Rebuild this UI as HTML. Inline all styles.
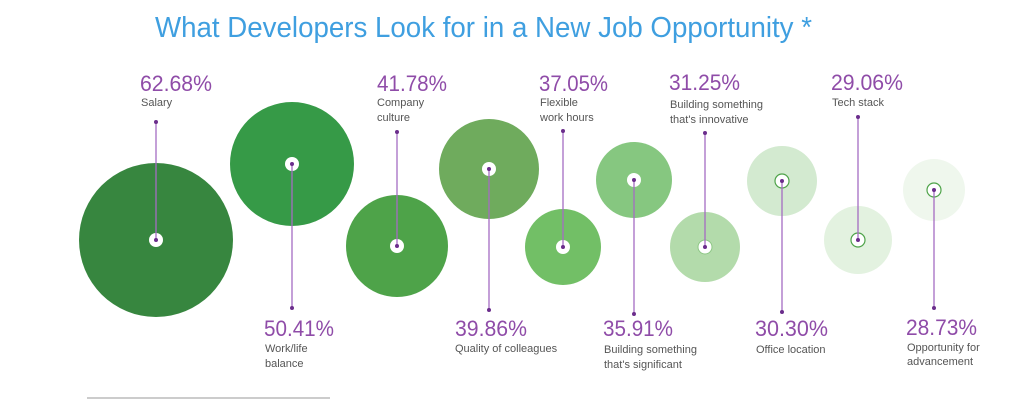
<!DOCTYPE html>
<html><head><meta charset="utf-8"><style>
html,body{margin:0;padding:0;background:#fff;}
svg{display:block;}
text{font-family:"Liberation Sans",sans-serif;}
.p{fill:#8f4ca8;font-size:22px;}
.l{fill:#555;font-size:11px;}
</style></head><body>
<svg width="1024" height="403" viewBox="0 0 1024 403">
<text x="155" y="37" fill="#3f9fe0" font-size="29" textLength="657" lengthAdjust="spacingAndGlyphs">What Developers Look for in a New Job Opportunity *</text>
<g>
<circle cx="156" cy="240" r="77" fill="#37863f"/>
<circle cx="292" cy="164" r="62" fill="#369a47"/>
<circle cx="397" cy="246" r="51" fill="#4ea349"/>
<circle cx="489" cy="169" r="50" fill="#6fab5d"/>
<circle cx="563" cy="247" r="38" fill="#72bf66"/>
<circle cx="634" cy="180" r="38" fill="#86c780"/>
<circle cx="705" cy="247" r="35" fill="#b3dbab"/>
<circle cx="782" cy="181" r="35" fill="#d3ead0"/>
<circle cx="858" cy="240" r="34" fill="#e3f2e0"/>
<circle cx="934" cy="190" r="31" fill="#eff7ed"/>
</g>
<g fill="#fff">
<circle cx="156" cy="240" r="7"/><circle cx="292" cy="164" r="7"/><circle cx="397" cy="246" r="7"/>
<circle cx="489" cy="169" r="7"/><circle cx="563" cy="247" r="7"/><circle cx="634" cy="180" r="7"/>
<circle cx="705" cy="247" r="7" stroke="#8cc784" stroke-width="1"/>
<circle cx="782" cy="181" r="7" stroke="#4ea349" stroke-width="1.2"/>
<circle cx="858" cy="240" r="7" stroke="#4ea349" stroke-width="1.2"/>
<circle cx="934" cy="190" r="7" stroke="#4ea349" stroke-width="1.2"/>
</g>
<g stroke="#a56cc2" stroke-width="1.3">
<line x1="156" y1="122" x2="156" y2="240"/>
<line x1="292" y1="164" x2="292" y2="308"/>
<line x1="397" y1="132" x2="397" y2="246"/>
<line x1="489" y1="169" x2="489" y2="310"/>
<line x1="563" y1="131" x2="563" y2="247"/>
<line x1="634" y1="180" x2="634" y2="314"/>
<line x1="705" y1="133" x2="705" y2="247"/>
<line x1="782" y1="181" x2="782" y2="312"/>
<line x1="858" y1="117" x2="858" y2="240"/>
<line x1="934" y1="190" x2="934" y2="308"/>
</g>
<g fill="#6b2d8c">
<circle cx="156" cy="122" r="2"/><circle cx="156" cy="240" r="2"/>
<circle cx="292" cy="164" r="2"/><circle cx="292" cy="308" r="2"/>
<circle cx="397" cy="132" r="2"/><circle cx="397" cy="246" r="2"/>
<circle cx="489" cy="169" r="2"/><circle cx="489" cy="310" r="2"/>
<circle cx="563" cy="131" r="2"/><circle cx="563" cy="247" r="2"/>
<circle cx="634" cy="180" r="2"/><circle cx="634" cy="314" r="2"/>
<circle cx="705" cy="133" r="2"/><circle cx="705" cy="247" r="2"/>
<circle cx="782" cy="181" r="2"/><circle cx="782" cy="312" r="2"/>
<circle cx="858" cy="117" r="2"/><circle cx="858" cy="240" r="2"/>
<circle cx="934" cy="190" r="2"/><circle cx="934" cy="308" r="2"/>
</g>
<text class="p" x="140" y="91" textLength="72" lengthAdjust="spacingAndGlyphs">62.68%</text>
<text class="l" x="141" y="106">Salary</text>
<text class="p" x="377" y="91" textLength="70" lengthAdjust="spacingAndGlyphs">41.78%</text>
<text class="l" x="377" y="106">Company</text><text class="l" x="377" y="121">culture</text>
<text class="p" x="539" y="91" textLength="69" lengthAdjust="spacingAndGlyphs">37.05%</text>
<text class="l" x="540" y="106">Flexible</text><text class="l" x="540" y="121">work hours</text>
<text class="p" x="669" y="90" textLength="71" lengthAdjust="spacingAndGlyphs">31.25%</text>
<text class="l" x="670" y="108">Building something</text><text class="l" x="670" y="123">that's innovative</text>
<text class="p" x="831" y="90" textLength="72" lengthAdjust="spacingAndGlyphs">29.06%</text>
<text class="l" x="832" y="106">Tech stack</text>
<text class="p" x="264" y="336" textLength="70" lengthAdjust="spacingAndGlyphs">50.41%</text>
<text class="l" x="265" y="352">Work/life</text><text class="l" x="265" y="367">balance</text>
<text class="p" x="455" y="336" textLength="72" lengthAdjust="spacingAndGlyphs">39.86%</text>
<text class="l" x="455" y="352">Quality of colleagues</text>
<text class="p" x="603" y="336" textLength="70" lengthAdjust="spacingAndGlyphs">35.91%</text>
<text class="l" x="604" y="353">Building something</text><text class="l" x="604" y="368">that's significant</text>
<text class="p" x="755" y="336" textLength="73" lengthAdjust="spacingAndGlyphs">30.30%</text>
<text class="l" x="756" y="353">Office location</text>
<text class="p" x="906" y="335" textLength="71" lengthAdjust="spacingAndGlyphs">28.73%</text>
<text class="l" x="907" y="351">Opportunity for</text><text class="l" x="907" y="365">advancement</text>
<line x1="87" y1="398" x2="330" y2="398" stroke="#bbb" stroke-width="1.5"/>
</svg>
</body></html>
